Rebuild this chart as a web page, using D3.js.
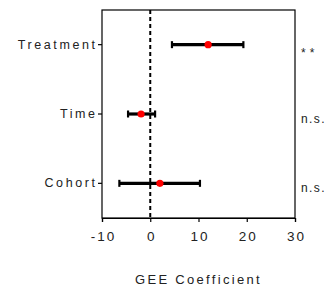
<!DOCTYPE html>
<html>
<head>
<meta charset="utf-8">
<script src="https://cdn.jsdelivr.net/npm/d3@7"></script>
<style>
  body { margin: 0; background: #fff; }
  text { font-family: Arial, "Liberation Sans", sans-serif; fill: #222; }
</style>
</head>
<body>
<svg id="chart"></svg>
<script>
const terms = ["Treatment", "Time", "Cohort"];
const estimates = [12, -1.9, 2.0];
const lower = [4.5, -4.6, -6.4];
const upper = [19.3, 1.0, 10.3];
const significance = ["**", "n.s.", "n.s."];
const xTicks = [-10, 0, 10, 20, 30];

const width = 327, height = 293;
const margin = {top: 10, right: 32, bottom: 75, left: 102};

const svg = d3.select("#chart")
    .attr("width", width)
    .attr("height", height);

const x = d3.scaleLinear()
    .domain([-10, 30])
    .range([margin.left, width - margin.right]);

const y = d3.scaleBand()
    .domain(terms)
    .range([margin.top, height - margin.bottom]);

const rows = terms.map((t, i) => ({
    term: t, est: estimates[i], lo: lower[i], hi: upper[i], sig: significance[i]
}));

// box
svg.append("rect")
    .attr("x", x(-10))
    .attr("y", margin.top)
    .attr("width", x(30) - x(-10))
    .attr("height", height - margin.bottom - margin.top)
    .attr("fill", "none")
    .attr("stroke", "#000")
    .attr("stroke-width", 1.2);

// x axis
const xAxis = svg.append("g")
    .attr("transform", `translate(0,${height - margin.bottom})`)
    .call(d3.axisBottom(x).tickValues(xTicks).tickSize(4).tickPadding(9).tickFormat(d => String(d)));
xAxis.select(".domain").attr("stroke-width", 1.2);
xAxis.selectAll("line").attr("stroke-width", 1.2);
xAxis.selectAll("text")
    .style("font-size", "13.5px")
    .style("letter-spacing", "2px")
    .attr("dx", "1px")
    .attr("fill", "#222");

// y axis
const yAxis = svg.append("g")
    .attr("transform", `translate(${margin.left},0)`)
    .call(d3.axisLeft(y).tickSize(4).tickPadding(3));
yAxis.select(".domain").remove();
yAxis.selectAll("line").attr("stroke-width", 1.2);
yAxis.selectAll("text")
    .style("font-size", "12.5px")
    .style("letter-spacing", "2.6px")
    .attr("dx", "2.6px")
    .attr("fill", "#222");

// zero line
svg.append("line")
    .attr("x1", x(0)).attr("x2", x(0))
    .attr("y1", margin.top).attr("y2", height - margin.bottom)
    .attr("stroke", "#000")
    .attr("stroke-width", 2)
    .attr("stroke-dasharray", "4,3");

// error bars
const bars = svg.append("g");
bars.selectAll(".ci")
    .data(rows)
    .enter()
    .append("line")
    .attr("x1", d => x(d.lo))
    .attr("x2", d => x(d.hi))
    .attr("y1", d => y(d.term) + y.bandwidth() / 2)
    .attr("y2", d => y(d.term) + y.bandwidth() / 2)
    .attr("stroke", "#000")
    .attr("stroke-width", 3.2);

["lo", "hi"].forEach(k => {
    bars.selectAll(".cap-" + k)
        .data(rows)
        .enter()
        .append("line")
        .attr("x1", d => x(d[k]))
        .attr("x2", d => x(d[k]))
        .attr("y1", d => y(d.term) + y.bandwidth() / 2 - 3.5)
        .attr("y2", d => y(d.term) + y.bandwidth() / 2 + 3.5)
        .attr("stroke", "#000")
        .attr("stroke-width", 2.2);
});

bars.selectAll("circle")
    .data(rows)
    .enter()
    .append("circle")
    .attr("cx", d => x(d.est))
    .attr("cy", d => y(d.term) + y.bandwidth() / 2)
    .attr("r", 3.6)
    .attr("fill", "#f00");

// significance labels
svg.selectAll(".sig")
    .data(rows)
    .enter()
    .append("text")
    .attr("class", "sig")
    .attr("x", width - margin.right + 6)
    .attr("y", d => y(d.term) + y.bandwidth() / 2 + (d.sig == "**" ? 12 : 9))
    .text(d => d.sig)
    .style("font-size", "12px")
    .style("letter-spacing", d => d.sig == "**" ? "4px" : "1.4px");

// x label
svg.append("text")
    .attr("x", (x(-10) + x(30)) / 2)
    .attr("y", 284)
    .attr("text-anchor", "middle")
    .text("GEE Coefficient")
    .style("font-size", "13px")
    .style("letter-spacing", "2.3px");
</script>
</body>
</html>
